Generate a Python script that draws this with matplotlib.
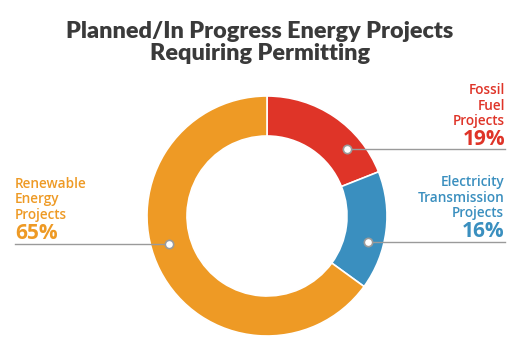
import matplotlib
matplotlib.use("Agg")
import matplotlib.pyplot as plt
import numpy as np

categories = ["Fossil\nFuel\nProjects", "Electricity\nTransmission\nProjects", "Renewable\nEnergy\nProjects"]
values = [19, 16, 65]
pct_labels = ["19%", "16%", "65%"]
colors = ["#DF3428", "#3A8FBF", "#EE9A25"]

W, H = 521, 352
fig = plt.figure(figsize=(W / 100, H / 100), dpi=100)
ax = fig.add_axes([0, 0, 1, 1])

cx, cy, R, r_in = 267, 216, 120, 80
# inverted y-axis flips direction: counterclock=True renders clockwise on screen
wedges, _ = ax.pie(values, colors=colors, startangle=-90, counterclock=True,
                   center=(cx, cy), radius=R,
                   wedgeprops=dict(width=R - r_in, edgecolor="white", linewidth=1.2),
                   frame=True)
ax.set_xlim(0, W)
ax.set_ylim(H, 0)
ax.set_aspect("equal")
ax.axis("off")

# leader layout: (dot x, dot y, line end x, text x, text anchor, text top y)
layout = [
    (347, 149, 505, 505, "right", 90),
    (368, 242, 505, 504, "right", 182),
    (169, 244, 15, 15, "left", 184),
]
font = "Open Sans"
for (dx, dy, lx, tx, ha, ty), cat, pct, col in zip(layout, categories, pct_labels, colors):
    ax.plot([dx, lx], [dy, dy], color="#9a9a9a", lw=1, zorder=3)
    ax.scatter([dx], [dy], s=36, facecolor="white", edgecolor="#9a9a9a", linewidth=1.2, zorder=4)
    lines = cat.split("\n")
    for i, ln in enumerate(lines):
        ax.text(tx, ty + i * 15.5, ln, ha=ha, va="center", color=col,
                fontsize=9.8, family=font, fontweight="semibold")
    ax.text(tx, ty + len(lines) * 15.5 + 3, pct, ha=ha, va="center", color=col,
            fontsize=15, family=font, fontweight="bold")

ax.text(260, 32, "Planned/In Progress Energy Projects", ha="center", va="center",
        color="#3a3a3a", fontsize=16.8, family="Lato", fontweight="heavy")
ax.text(260, 54, "Requiring Permitting", ha="center", va="center",
        color="#3a3a3a", fontsize=16.8, family="Lato", fontweight="heavy")

fig.savefig("out.png", dpi=100, facecolor="white")
